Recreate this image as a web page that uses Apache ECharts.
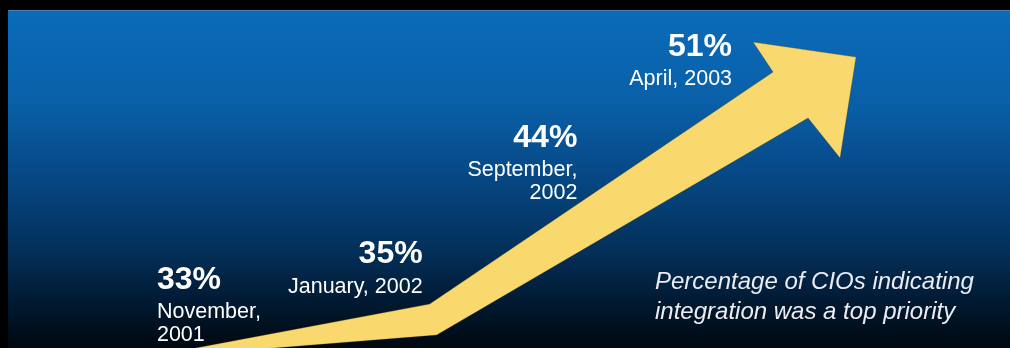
<!DOCTYPE html>
<html>
<head>
<meta charset="utf-8">
<script src="https://cdn.jsdelivr.net/npm/echarts@6/dist/echarts.min.js"></script>
<style>
html,body{margin:0;padding:0;background:#000;}
#chart{width:1010px;height:348px;}
</style>
</head>
<body>
<div id="chart"></div>
<script>
// ---- data ----
const categories = ['November, 2001', 'January, 2002', 'September, 2002', 'April, 2003'];
const values = [33, 35, 44, 51];
const dateLabels = ['November,\n2001', 'January, 2002', 'September,\n2002', 'April, 2003'];
const noteText = 'Percentage of CIOs indicating\nintegration was a top priority';

const FONT = '"Liberation Sans", Arial, sans-serif';

function labelFor(i) {
  const left = i === 0;
  const side = left ? 'L' : 'R';
  const lines = dateLabels[i].split('\n').map(function (s) { return '{d' + side + '|' + s + '}'; });
  return {
    text: '{p' + side + '|' + values[i] + '%}\n' + lines.join('\n'),
    align: left ? 'left' : 'right',
    offset: left ? [-111, -8] : [0, -8]
  };
}

const seriesData = values.map(function (v, i) {
  const l = labelFor(i);
  return {
    value: v,
    label: { formatter: l.text, align: l.align, offset: l.offset }
  };
});

const arrowColor = '#F9D86E';

function renderArrow(params, api) {
  if (params.dataIndex !== 0) return { type: 'group', children: [] };
  const c0 = api.coord([0, values[0]]);
  const c1 = api.coord([1, values[1]]);
  const c3 = api.coord([3, values[3]]);
  const add = function (c, dx, dy) { return [c[0] + dx, c[1] + dy]; };
  const pts = [
    add(c0, -83, 82),   // tail, upper
    add(c1, 7, 62),     // bend, upper
    add(c3, 41, 37),    // head notch, upper
    add(c3, 21, 7),     // left barb
    add(c3, 124, 22),   // tip
    add(c3, 108, 123),  // right barb
    add(c3, 76, 83),    // head notch, lower
    add(c1, 14, 93),    // bend, lower
    add(c0, -43, 84)    // tail, lower
  ];
  return {
    type: 'polygon',
    shape: { points: pts },
    style: { fill: arrowColor, stroke: 'rgba(60,50,10,0.35)', lineWidth: 0.8 }
  };
}

const chart = echarts.init(document.getElementById('chart'), null, { renderer: 'canvas' });
chart.setOption({
  backgroundColor: '#000',
  animation: false,
  graphic: [
    {
      type: 'rect', left: 8, top: 10, z: -10,
      shape: { width: 1002, height: 338 },
      style: {
        fill: new echarts.graphic.LinearGradient(0, 0, 0, 1, [
          { offset: 0, color: '#0B6BBA' },
          { offset: 0.27, color: '#0960A8' },
          { offset: 0.47, color: '#064A88' },
          { offset: 0.71, color: '#03305A' },
          { offset: 0.86, color: '#011A33' },
          { offset: 1, color: '#000810' }
        ])
      }
    },
    {
      type: 'rect', left: 8, top: 10, z: -9,
      shape: { width: 1002, height: 1 },
      style: { fill: '#4F7FAE' }
    }
  ],
  title: {
    text: noteText,
    left: 655, top: 267, padding: 0,
    textStyle: {
      fontFamily: FONT, fontSize: 24, fontStyle: 'italic', fontWeight: 'normal',
      color: '#ECECF2', lineHeight: 30
    }
  },
  grid: { left: 190.6, right: 200.6, top: 9.2, bottom: 2.4 },
  xAxis: { type: 'category', data: categories, show: false, boundaryGap: true },
  yAxis: { type: 'value', min: 27, max: 53, show: false },
  series: [
    {
      type: 'custom',
      name: 'trend',
      clip: false,
      renderItem: renderArrow,
      data: values.map(function (v, i) { return [i, v]; }),
      z: 2
    },
    {
      type: 'scatter',
      name: 'CIOs',
      symbolSize: 1,
      itemStyle: { color: 'rgba(0,0,0,0)', opacity: 1 },
      data: seriesData,
      z: 3,
      label: {
        show: true,
        opacity: 1,
        position: 'inside',
        verticalAlign: 'top',
        rich: {
          pR: { fontFamily: FONT, fontSize: 32, fontWeight: 'bold', color: '#FFFFFF', lineHeight: 41, align: 'right' },
          dR: { fontFamily: FONT, fontSize: 21.5, color: '#FFFFFF', lineHeight: 23, align: 'right' },
          pL: { fontFamily: FONT, fontSize: 32, fontWeight: 'bold', color: '#FFFFFF', lineHeight: 41, align: 'left' },
          dL: { fontFamily: FONT, fontSize: 21.5, color: '#FFFFFF', lineHeight: 23, align: 'left' }
        }
      }
    }
  ]
});
</script>
</body>
</html>
